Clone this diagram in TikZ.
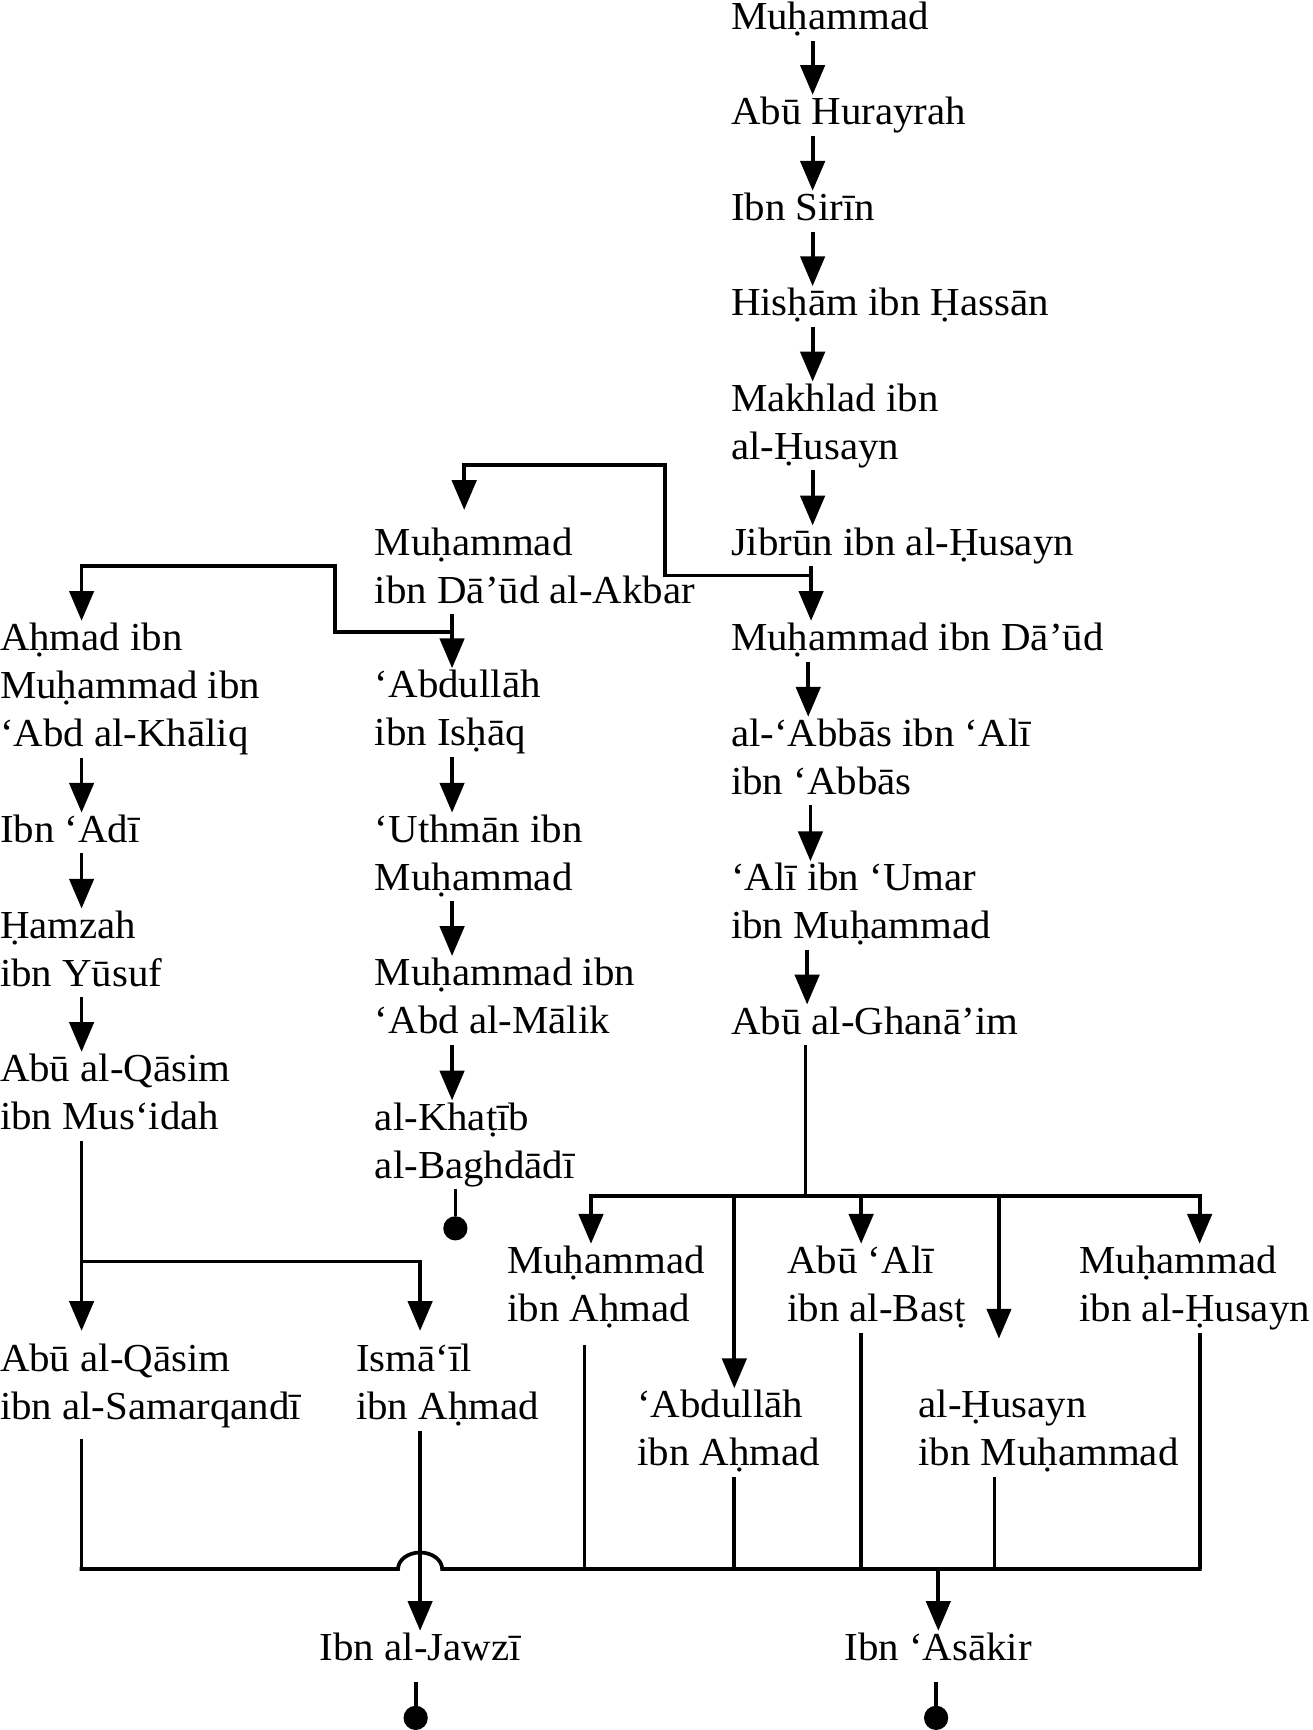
\documentclass[tikz,border=0pt]{standalone}
\usepackage{fontspec}
\setmainfont{Liberation Serif}[FakeStretch=1.03]
\usetikzlibrary{arrows.meta}
\newcommand\stt{\rule[-10pt]{0pt}{37pt}}
\begin{document}
\begin{tikzpicture}[x=1pt,y=-1pt,
  txt/.style={anchor=north west,inner sep=0pt,outer sep=0pt,align=left,font=\fontsize{36}{43.5}\selectfont},
  ln/.style={line width=3.4pt},
  arr/.style={ln,-{Triangle[length=27pt,width=22pt]}},
  dotnode/.style={circle,fill,inner sep=0pt,minimum size=22pt}]
\useasboundingbox (0,0) rectangle (1190,1569);
% right column
\node[txt] (r1) at (663,0) {\stt Muḥammad};
\node[txt] (r2) at (663,86) {\stt Abū Hurayrah};
\node[txt] (r3) at (663,173) {\stt Ibn Sirīn};
\node[txt] (r4) at (663,259.5) {\stt Hisḥām ibn Ḥassān};
\node[txt] (r5) at (663,346) {\stt Makhlad ibn\\\stt al-Ḥusayn};
\node[txt] (r6) at (663,476.5) {\stt Jibrūn ibn al-Ḥusayn};
\node[txt] (r7) at (663,563) {\stt Muḥammad ibn Dā’ūd};
\node[txt] (r8) at (663,650) {\stt al-‘Abbās ibn ‘Alī\\\stt ibn ‘Abbās};
\node[txt] (r9) at (663,781) {\stt ‘Alī ibn ‘Umar\\\stt ibn Muḥammad};
\node[txt] (r10) at (663,911) {\stt Abū al-Ghanā’im};
% middle column
\node[txt] (m1) at (340,476.5) {\stt Muḥammad\\\stt ibn Dā’ūd al-Akbar};
\node[txt] (m2) at (340,606) {\stt ‘Abdullāh\\\stt ibn Isḥāq};
\node[txt] (m3) at (340,737) {\stt ‘Uthmān ibn\\\stt Muḥammad};
\node[txt] (m4) at (340,867) {\stt Muḥammad ibn\\\stt ‘Abd al-Mālik};
\node[txt] (m5) at (340,998) {\stt al-Khaṭīb\\\stt al-Baghdādī};
% left column
\node[txt] (l1) at (0,563) {\stt Aḥmad ibn\\\stt Muḥammad ibn\\\stt ‘Abd al-Khāliq};
\node[txt] (l2) at (0,737) {\stt Ibn ‘Adī};
\node[txt] (l3) at (0,824) {\stt Ḥamzah\\\stt ibn Yūsuf};
\node[txt] (l4) at (0,954) {\stt Abū al-Qāsim\\\stt ibn Mus‘idah};
\node[txt] (l5) at (0,1217) {\stt Abū al-Qāsim\\\stt ibn al-Samarqandī};
\node[txt] (l6) at (323,1217) {\stt Ismā‘īl\\\stt ibn Aḥmad};
% lower right
\node[txt] (b1) at (460,1128) {\stt Muḥammad\\\stt ibn Aḥmad};
\node[txt] (b2) at (578,1259) {\stt ‘Abdullāh\\\stt ibn Aḥmad};
\node[txt] (b3) at (714,1128) {\stt Abū ‘Alī\\\stt ibn al-Basṭ};
\node[txt] (b4) at (833,1259) {\stt al-Ḥusayn\\\stt ibn Muḥammad};
\node[txt] (b5) at (979,1128) {\stt Muḥammad\\\stt ibn al-Ḥusayn};
\node[txt] (j) at (290,1479) {\stt Ibn al-Jawzī};
\node[txt] (ak) at (766,1479) {\stt Ibn ‘Asākir};
% end dots
\node[dotnode] (d1) at (413,1114) {};
\node[dotnode] (d2) at (377,1558) {};
\node[dotnode] (d3) at (849,1558) {};
% columns and junctions
\coordinate (xR) at (737,0);
\coordinate (xR2) at (735.6,0);
\coordinate (xR3) at (733,0);
\coordinate (xR4) at (735,0);
\coordinate (xR5) at (732,0);
\coordinate (xG) at (730.6,0);
\coordinate (xM) at (410,0);
\coordinate (xA) at (421,0);
\coordinate (xL) at (74,0);
\coordinate (xI) at (381,0);
\coordinate (xb1) at (530,0);
\coordinate (xb2) at (666,0);
\coordinate (xb3) at (781,0);
\coordinate (xb4) at (902,0);
\coordinate (xb5) at (1088,0);
\coordinate (J1) at (737,522);
\coordinate (K1) at (603,422);
\coordinate (J2) at (410,573);
\coordinate (K2) at (304,513.5);
\coordinate (J3) at (74,1144);
\coordinate (J4) at (730.6,1085);
\coordinate (H1) at (536,1085);
\coordinate (H2) at (666,1085);
\coordinate (H3) at (781,1085);
\coordinate (H4) at (906,1085);
\coordinate (H5) at (1088,1085);
\coordinate (B0) at (72.3,1423);
\coordinate (Bs) at (361,1423);
\coordinate (Be) at (401,1423);
\coordinate (B9) at (1089.7,1423);
\coordinate (J5) at (851,1423);
% right chain
\draw[arr] (r1.south -| xR) -- (r2.north -| xR);
\draw[arr] (r2.south -| xR) -- (r3.north -| xR);
\draw[arr] (r3.south -| xR) -- (r4.north -| xR);
\draw[arr] (r4.south -| xR) -- (r5.north -| xR);
\draw[arr] (r5.south -| xR) -- (r6.north -| xR);
\draw[arr] (r6.south -| xR2) -- (r7.north -| xR2);
\draw[arr] (J1) -| (K1) -| ([yshift=14pt]m1.north -| xA);
\draw[arr] (r7.south -| xR3) -- (r8.north -| xR3);
\draw[arr] (r8.south -| xR4) -- (r9.north -| xR4);
\draw[arr] (r9.south -| xR5) -- (r10.north -| xR5);
\draw[ln] (r10.south -| xG) -- (J4);
% middle chain
\draw[arr] (m1.south -| xM) -- (m2.north -| xM);
\draw[arr] (J2) -| (K2) -| (l1.north -| xL);
\draw[arr] (m2.south -| xM) -- (m3.north -| xM);
\draw[arr] (m3.south -| xM) -- (m4.north -| xM);
\draw[arr] (m4.south -| xM) -- (m5.north -| xM);
\draw[ln] (m5.south -| d1) -- (d1.north);
% left chain
\draw[arr] (l1.south -| xL) -- (l2.north -| xL);
\draw[arr] (l2.south -| xL) -- (l3.north -| xL);
\draw[arr] (l3.south -| xL) -- (l4.north -| xL);
\draw[arr] (l4.south -| xL) -- ([yshift=10pt]l5.north -| xL);
\draw[arr] (J3) -| ([yshift=10pt]l6.north -| xI);
% branches of Abu al-Ghana'im
\draw[ln,line cap=rect] (H1) -- (H5);
\draw[arr] (H1) -- (b1.north -| H1);
\draw[arr] (H2) -- (b2.north -| H2);
\draw[arr] (H3) -- (b3.north -| H3);
\draw[arr] (H4) -- ([yshift=45pt]b4.north -| H4);
\draw[arr] (H5) -- (b5.north -| H5);
% bottom collecting bar
\draw[ln] ([yshift=-8pt]l5.south -| xL) -- (xL |- B0);
\draw[ln] ([yshift=-11pt]b1.south -| xb1) -- (xb1 |- B0);
\draw[ln] (b2.south -| xb2) -- (xb2 |- B0);
\draw[ln] (b3.south -| xb3) -- (xb3 |- B0);
\draw[ln] (b4.south -| xb4) -- (xb4 |- B0);
\draw[ln] (b5.south -| xb5) -- (xb5 |- B0);
\draw[ln] (B0) -- (Bs) .. controls (361,1414.7) and (370,1408) .. (381,1408)
  .. controls (392,1408) and (401,1414.7) .. (Be) -- (B9);
\draw[arr] (l6.south -| xI) -- (j.north -| xI);
\draw[arr] (J5) -- (ak.north -| J5);
\draw[ln] ([yshift=-9pt]j.south -| d2) -- (d2.north);
\draw[ln] ([yshift=-9pt]ak.south -| d3) -- (d3.north);
\end{tikzpicture}
\end{document}
